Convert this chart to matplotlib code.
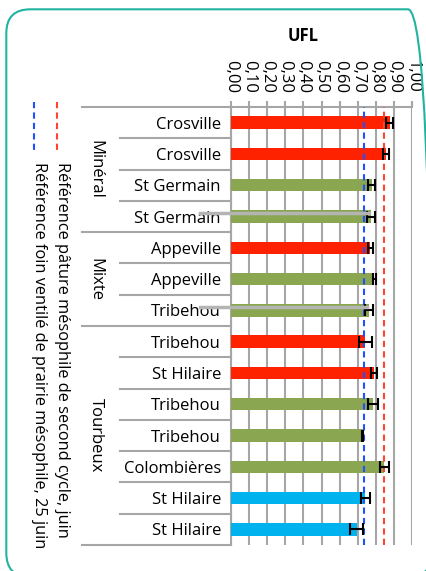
import numpy as np
import matplotlib
matplotlib.use('Agg')
import matplotlib.pyplot as plt
import matplotlib.transforms as mtransforms
from matplotlib.lines import Line2D
from matplotlib.patches import FancyBboxPatch

plt.rcParams['font.family'] = ['Open Sans', 'DejaVu Sans']

# Data
sites = ['Crosville', 'Crosville', 'St Germain', 'St Germain', 'Appeville',
         'Appeville', 'Tribehou', 'Tribehou', 'St Hilaire', 'Tribehou',
         'Tribehou', 'Colombières', 'St Hilaire', 'St Hilaire']
ufl = [0.875, 0.855, 0.777, 0.772, 0.768, 0.790, 0.760,
       0.742, 0.790, 0.785, 0.726, 0.846, 0.742, 0.693]
ufl_err = [0.021, 0.016, 0.019, 0.023, 0.014, 0.008, 0.021,
           0.034, 0.015, 0.028, 0.003, 0.024, 0.023, 0.037]
kind = ['r', 'r', 'g', 'g', 'r', 'g', 'g', 'r', 'r', 'g', 'g', 'g', 'b', 'b']
groups = ['Minéral', 'Mixte', 'Tourbeux']
group_sizes = [4, 3, 7]
ref_paturage = 0.846
ref_foin = 0.736
ref_labels = ['Référence pâture mésophile de second cycle, juin',
              'Référence foin ventilé de prairie mésophile, 25 juin']
xticks = np.arange(0, 1.01, 0.1)
stray_rows = [3, 6]   # grey leftover lines visible in the original

colors = {'r': '#FF2200', 'g': '#8AA651', 'b': '#00B3EE'}
grey = '#A6A6A6'
red_ref = '#FF4530'
blue_ref = '#2050FF'
fs = 12

fig = plt.figure(figsize=(4.27, 5.71), dpi=100)
ax = fig.add_axes([0.5403, 0.0455, 0.4253, 0.7671])

y = np.arange(len(sites))
ax.barh(y, ufl, height=0.4, color=[colors[k] for k in kind], zorder=3)
ax.errorbar(ufl, y, xerr=ufl_err, fmt='none', ecolor='black',
            elinewidth=1.5, capsize=4.3, capthick=1.5, zorder=5)

ax.axvline(ref_paturage, color=red_ref, ls=(0, (3, 2)), lw=1.5, zorder=4)
ax.axvline(ref_foin, color=blue_ref, ls=(0, (3, 2)), lw=1.5, zorder=4)

ax.set_xlim(0, 1.0)
ax.set_ylim(len(sites) - 0.5, -0.5)
ax.xaxis.tick_top()
ax.set_xticks(xticks)
ax.set_xticklabels([('%.2f' % v).replace('.', ',') for v in xticks],
                   rotation=-90, fontsize=fs, va='bottom')
ax.tick_params(axis='x', length=4, width=1.5, color=grey, pad=6)
ax.grid(axis='x', color=grey, lw=1.5, zorder=0)
ax.set_axisbelow(True)
fig.text(303.5 / 427, 1 - 36 / 571, 'UFL', fontsize=12, fontweight='bold',
         ha='center', va='center')

ax.set_yticks(y)
ax.set_yticklabels(sites, fontsize=fs)
ax.tick_params(axis='y', length=0, pad=7)

for s in ['right', 'bottom']:
    ax.spines[s].set_visible(False)
for s in ['left', 'top']:
    ax.spines[s].set_color(grey)
    ax.spines[s].set_linewidth(1.5)

# multi-level category axis lines
trans = mtransforms.blended_transform_factory(ax.transAxes, ax.transData)
bounds = np.cumsum(group_sizes)
x_outer, x_inner = -0.819, -0.61
ax.plot([x_outer, 0], [-0.5, -0.5], color=grey, lw=1.5, transform=trans, clip_on=False)
for i in range(len(sites)):
    yb = i + 0.5
    x0 = x_outer if (i + 1) in bounds else x_inner
    ax.plot([x0, 0], [yb, yb], color=grey, lw=1.5, transform=trans, clip_on=False)

start = 0
for g, n in zip(groups, group_sizes):
    ax.text(-0.745, start + (n - 1) / 2, g, transform=trans, rotation=-90,
            ha='center', va='center', fontsize=fs)
    start += n

for r in stray_rows:
    ax.plot([-0.17, ufl[r] - 0.01], [r - 0.1, r - 0.1], color='#B4B4B4', lw=2.5,
            transform=trans, clip_on=False, zorder=6)

# rotated legend
for xl, col, txt in [(57, red_ref, ref_labels[0]), (34, blue_ref, ref_labels[1])]:
    fig.add_artist(Line2D([xl / 427, xl / 427], [1 - 102 / 571, 1 - 150 / 571],
                          color=col, ls=(0, (3, 2)), lw=1.5, transform=fig.transFigure))
    fig.text((xl + 5) / 427, 1 - 162 / 571, txt, rotation=-90, ha='center', va='top',
             fontsize=11.8)

fig.add_artist(FancyBboxPatch((6.3, -6), 425.7, 567.7,
                              boxstyle='round,pad=0,rounding_size=24',
                              fill=False, ec='#22B4A0', lw=1.5, transform=None))

fig.savefig('out.png', dpi=100)
